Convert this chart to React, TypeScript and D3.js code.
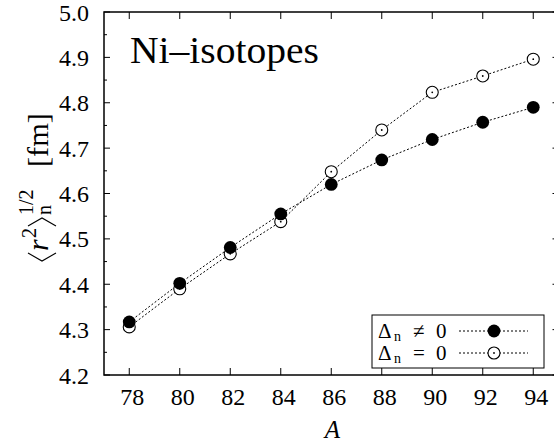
import React from "react";
import * as d3 from "d3";

const massNumbers = [78, 80, 82, 84, 86, 88, 90, 92, 94];
const radiusWithPairing = [4.317, 4.402, 4.481, 4.555, 4.62, 4.674, 4.719, 4.757, 4.79];
const radiusNoPairing = [4.306, 4.39, 4.467, 4.538, 4.648, 4.74, 4.823, 4.859, 4.896];
const xTickValues = [78, 80, 82, 84, 86, 88, 90, 92, 94];
const yTickValues = [4.2, 4.3, 4.4, 4.5, 4.6, 4.7, 4.8, 4.9, 5.0];
const yMinorTickValues = [4.25, 4.35, 4.45, 4.55, 4.65, 4.75, 4.85, 4.95];

const W = 554;
const H = 443;
const FONT = "Liberation Serif";

const x = d3.scaleLinear().domain([77, 95]).range([104, 558.5]);
const y = d3.scaleLinear().domain([4.2, 5.0]).range([375, 12]);

function T(props: any) {
  const { children, style, ...rest } = props;
  return (
    <text fontFamily={FONT} style={{ fontFamily: `"${FONT}"`, ...(style || {}) }} {...rest}>
      {children}
    </text>
  );
}

export default function App() {
  const line = d3
    .line<number>()
    .x((_, i) => x(massNumbers[i]))
    .y((d) => y(d));
  const [x0, x1] = x.range();
  const [yb, yt] = y.range();

  return (
    <svg
      width={W}
      height={H}
      viewBox={`0 0 ${W} ${H}`}
      style={{ position: "absolute", left: 0, top: 0 }}
    >
      <style>{`text { font-family: "Liberation Serif"; }`}</style>
      <rect x={0} y={0} width={W} height={H} fill="#fff" />
      <rect x={x0} y={yt} width={x1 - x0} height={yb - yt} fill="none" stroke="#000" strokeWidth={1.5} />
      {xTickValues.map((v) => (
        <g key={"xt" + v}>
          <line x1={x(v)} x2={x(v)} y1={yb} y2={yb - 7} stroke="#000" strokeWidth={1} />
          <line x1={x(v)} x2={x(v)} y1={yt} y2={yt + 7} stroke="#000" strokeWidth={1} />
          <T x={x(v) + 3} y={405} fontSize={24} textAnchor="middle">
            {String(v)}
          </T>
        </g>
      ))}
      {yTickValues.map((v) => (
        <g key={"yt" + v}>
          <line x1={x0} x2={x0 + 6} y1={y(v)} y2={y(v)} stroke="#000" strokeWidth={1} />
          <line x1={x1} x2={x1 - 6} y1={y(v)} y2={y(v)} stroke="#000" strokeWidth={1} />
          <T x={89} y={y(v) + 8.5} fontSize={24} textAnchor="end">
            {v.toFixed(1)}
          </T>
        </g>
      ))}
      {yMinorTickValues.map((v) => (
        <g key={"ym" + v}>
          <line x1={x0} x2={x0 + 3} y1={y(v)} y2={y(v)} stroke="#000" strokeWidth={1} />
          <line x1={x1} x2={x1 - 3} y1={y(v)} y2={y(v)} stroke="#000" strokeWidth={1} />
        </g>
      ))}

      <T x={130} y={63} fontSize={38} textLength={189} lengthAdjust="spacingAndGlyphs">
        Ni–isotopes
      </T>

      <path d={line(radiusNoPairing) || ""} fill="none" stroke="#000" strokeWidth={1} strokeDasharray="2,2" />
      <path d={line(radiusWithPairing) || ""} fill="none" stroke="#000" strokeWidth={1} strokeDasharray="2,2" />
      {radiusNoPairing.map((v, i) => (
        <g key={"o" + i}>
          <circle cx={x(massNumbers[i])} cy={y(v)} r={6} fill="#fff" stroke="#000" strokeWidth={1.1} />
          <circle cx={x(massNumbers[i])} cy={y(v)} r={0.9} fill="#000" />
        </g>
      ))}
      {radiusWithPairing.map((v, i) => (
        <circle key={"f" + i} cx={x(massNumbers[i])} cy={y(v)} r={6.4} fill="#000" />
      ))}

      <rect x={372} y={315} width={172} height={53} fill="#fff" stroke="#000" strokeWidth={1} />
      <T x={378} y={338} fontSize={21}>Δ</T>
      <T x={394} y={341} fontSize={14}>n</T>
      <T x={413} y={338} fontSize={21}>≠</T>
      <T x={436} y={338} fontSize={21}>0</T>
      <T x={378} y={360} fontSize={21}>Δ</T>
      <T x={394} y={363} fontSize={14}>n</T>
      <T x={413} y={360} fontSize={21}>=</T>
      <T x={436} y={360} fontSize={21}>0</T>
      <line x1={459} x2={528} y1={331} y2={331} stroke="#000" strokeWidth={1} strokeDasharray="2,2" />
      <circle cx={494} cy={331} r={6.4} fill="#000" />
      <line x1={459} x2={528} y1={353} y2={353} stroke="#000" strokeWidth={1} strokeDasharray="2,2" />
      <circle cx={494} cy={353} r={6} fill="#fff" stroke="#000" strokeWidth={1.1} />
      <circle cx={494} cy={353} r={0.9} fill="#000" />

      <T x={332.5} y={438} fontSize={25} fontStyle="italic" textAnchor="middle">
        A
      </T>

      <g transform="translate(48, 263) rotate(-90)">
        <path d="M 10 -20 L 2 -6 L 10 8" fill="none" stroke="#000" strokeWidth={1.1} />
        <T x={12} y={0} fontSize={30} fontStyle="italic">r</T>
        <T x={25} y={-12} fontSize={20}>2</T>
        <path d="M 37 -20 L 45 -6 L 37 8" fill="none" stroke="#000" strokeWidth={1.1} />
        <T x={48} y={-15} fontSize={20}>1/2</T>
        <T x={48} y={3} fontSize={20}>n</T>
        <T x={96} y={0} fontSize={30} textLength={54} lengthAdjust="spacingAndGlyphs">[fm]</T>
      </g>
    </svg>
  );
}
